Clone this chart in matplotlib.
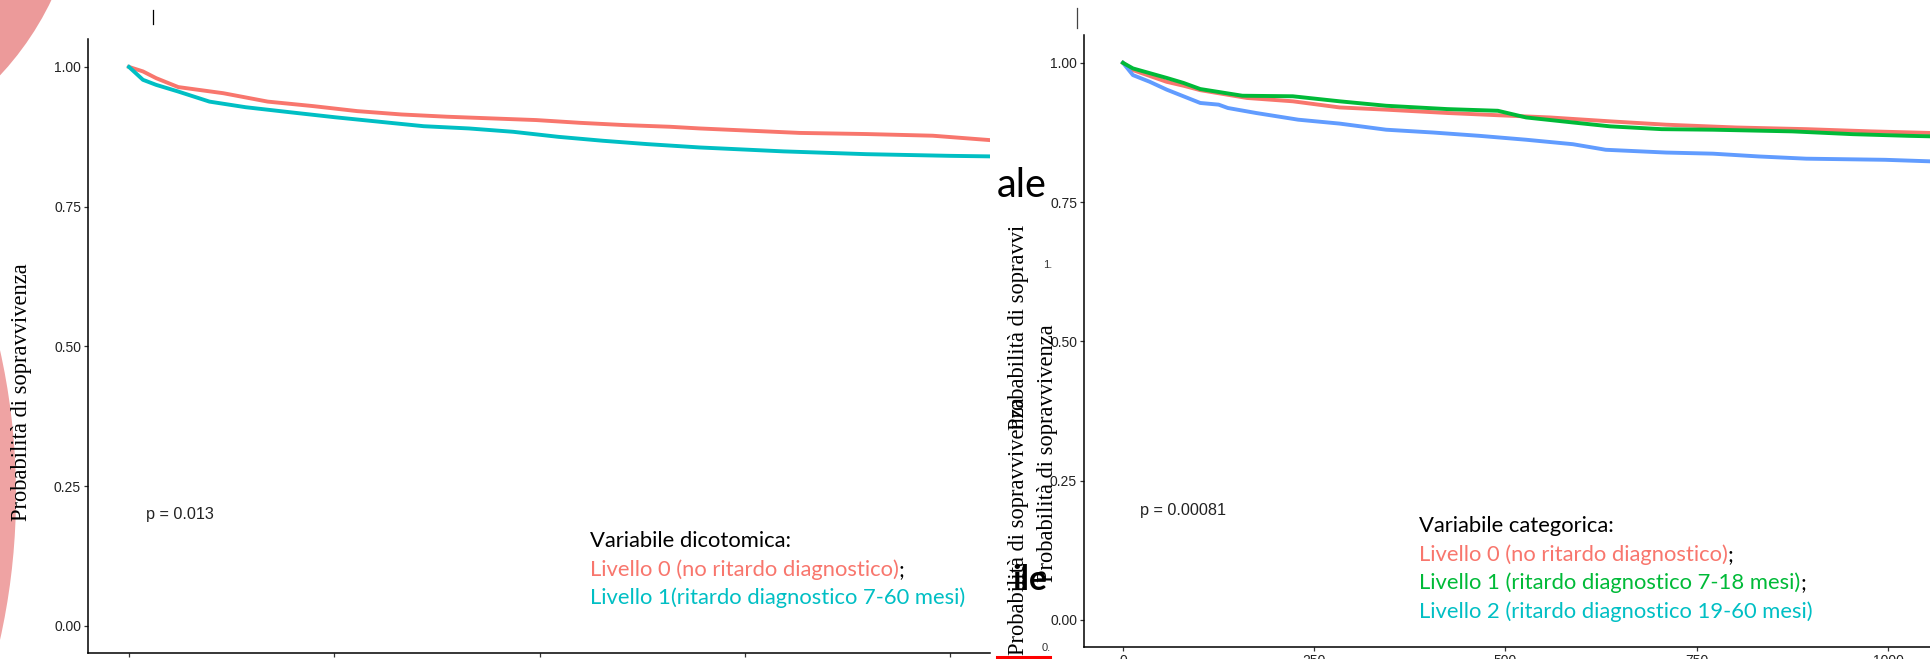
import matplotlib
matplotlib.use('Agg')
import matplotlib.pyplot as plt
from matplotlib.patches import Circle
from matplotlib.transforms import IdentityTransform
from matplotlib.lines import Line2D

# ---------------- data ----------------
# Left panel: dichotomous variable
left_time_lvl0 = [0, 17, 33, 60, 115, 169, 224, 278, 332, 387, 441, 496, 550, 604, 659, 695, 817, 898, 979, 1050]
left_surv_lvl0 = [1.0, 0.992, 0.980, 0.964, 0.953, 0.938, 0.930, 0.921, 0.915, 0.911, 0.908, 0.905, 0.900, 0.896,
                  0.893, 0.890, 0.882, 0.880, 0.877, 0.869]
left_time_lvl1 = [0, 17, 33, 60, 98, 142, 196, 251, 305, 359, 414, 468, 523, 577, 631, 695, 797, 898, 1000, 1050]
left_surv_lvl1 = [1.0, 0.977, 0.968, 0.956, 0.938, 0.928, 0.919, 0.910, 0.902, 0.894, 0.890, 0.884, 0.875, 0.868,
                  0.862, 0.856, 0.849, 0.844, 0.841, 0.840]

# Right panel: categorical variable
right_time_lvl0 = [0, 13, 57, 79, 101, 162, 222, 283, 344, 424, 490, 558, 637, 710, 801, 893, 978, 1060]
right_surv_lvl0 = [1.0, 0.987, 0.966, 0.959, 0.951, 0.937, 0.931, 0.920, 0.916, 0.910, 0.906, 0.902, 0.895, 0.889,
                   0.884, 0.881, 0.877, 0.874]
right_time_lvl1 = [0, 13, 57, 79, 101, 156, 222, 283, 344, 424, 490, 527, 588, 637, 704, 771, 875, 954, 1027, 1060]
right_surv_lvl1 = [1.0, 0.990, 0.973, 0.964, 0.953, 0.941, 0.940, 0.931, 0.923, 0.917, 0.914, 0.902, 0.893, 0.886,
                   0.881, 0.880, 0.877, 0.872, 0.869, 0.868]
right_time_lvl2 = [0, 13, 35, 57, 79, 101, 125, 137, 174, 229, 283, 344, 405, 466, 527, 588, 631, 710, 771, 831, 893,
                   996, 1060]
right_surv_lvl2 = [1.0, 0.978, 0.966, 0.952, 0.940, 0.928, 0.925, 0.919, 0.910, 0.898, 0.891, 0.880, 0.875, 0.869,
                   0.862, 0.854, 0.844, 0.839, 0.837, 0.832, 0.828, 0.826, 0.823]

y_ticks = [0.00, 0.25, 0.50, 0.75, 1.00]
y_tick_labels = ["0.00", "0.25", "0.50", "0.75", "1.00"]
x_ticks = [0, 250, 500, 750, 1000]
x_tick_labels = ["0", "250", "500", "750", "1000"]

y_label = "Probabilità di sopravvivenza"
p_left = "p = 0.013"
p_right = "p = 0.00081"
legend_left_title = "Variabile dicotomica:"
legend_left_items = ["Livello 0 (no ritardo diagnostico)", "Livello 1(ritardo diagnostico 7-60 mesi)"]
legend_right_title = "Variabile categorica:"
legend_right_items = ["Livello 0 (no ritardo diagnostico)", "Livello 1 (ritardo diagnostico 7-18 mesi)",
                      "Livello 2 (ritardo diagnostico 19-60 mesi)"]

RED = '#F8766D'
TEAL = '#00BFC4'
GREEN = '#00BA38'
BLUE = '#619CFF'
PINK = '#ec9a9a'

# ---------------- figure ----------------
W, H = 1931, 659
DPI = 100
fig = plt.figure(figsize=(W / DPI, H / DPI), dpi=DPI)
fig.patch.set_facecolor('white')


def fx(x):
    return x / W


def fy(y):
    return 1 - y / H


# decorative slide circles
fig.add_artist(Circle((-220, H + 130), 301, transform=IdentityTransform(), facecolor=PINK,
                      edgecolor='none', zorder=0))
fig.add_artist(Circle((-649, H - 495), 665, transform=IdentityTransform(), facecolor='#efa3a3',
                      edgecolor='none', zorder=0))

TICK_FONT = 'Liberation Sans'
LEG_FONT = 'Lato'
SERIF = 'Liberation Serif'


def style_axes(ax):
    ax.set_facecolor('none')
    for s in ['top', 'right']:
        ax.spines[s].set_visible(False)
    for s in ['left', 'bottom']:
        ax.spines[s].set_linewidth(1.1)
        ax.spines[s].set_color('black')
    ax.set_yticks(y_ticks)
    ax.set_yticklabels(y_tick_labels)
    ax.set_xticks(x_ticks)
    ax.set_xticklabels(x_tick_labels)
    ax.tick_params(axis='both', length=3, width=0.9, color='#333333', labelsize=10,
                   labelcolor='#222222', pad=2)
    for lab in ax.get_xticklabels() + ax.get_yticklabels():
        lab.set_fontfamily(TICK_FONT)


# left panel
px_per_unit_L = 205.25 / 250
axL = fig.add_axes([fx(88), fy(653), (990 - 88) / W, (653 - 39) / H])
axL.set_xlim((88 - 129) / px_per_unit_L, (990 - 129) / px_per_unit_L)
axL.set_ylim(-0.0483, 1.050)
style_axes(axL)
axL.plot(left_time_lvl0, left_surv_lvl0, color=RED, lw=2.8)
axL.plot(left_time_lvl1, left_surv_lvl1, color=TEAL, lw=2.8)
axL.text(21, 0.199, p_left, fontsize=11.7, family=TICK_FONT, color='#222222', ha='left', va='center')

# right panel
px_per_unit_R = 191.25 / 250
axR = fig.add_axes([fx(1084), fy(647), (1972 - 1084) / W, (647 - 35) / H])
axR.set_xlim((1084 - 1123) / px_per_unit_R, (1972 - 1123) / px_per_unit_R)
axR.set_ylim(-0.0485, 1.050)
style_axes(axR)
axR.plot(right_time_lvl0, right_surv_lvl0, color=RED, lw=2.8)
axR.plot(right_time_lvl2, right_surv_lvl2, color=BLUE, lw=2.8)
axR.plot(right_time_lvl1, right_surv_lvl1, color=GREEN, lw=2.8)
axR.text(22, 0.197, p_right, fontsize=11.7, family=TICK_FONT, color='#222222', ha='left', va='center')

renderer = fig.canvas.get_renderer()


def fit_width(t, target):
    w = t.get_window_extent(renderer).width
    t.set_fontsize(t.get_fontsize() * target / w)


def fit_height(t, target):
    h = t.get_window_extent(renderer).height
    t.set_fontsize(t.get_fontsize() * target / h)


# legend font size fitted on the longest right line
probe = fig.text(0, 0, legend_right_items[2], family=LEG_FONT, fontsize=16)
fit_width(probe, 395)
LEG_SIZE = probe.get_fontsize()
probe.remove()


def legend_line(x, y, parts):
    cur = x
    for txt, col in parts:
        t = fig.text(fx(cur), fy(y), txt, family=LEG_FONT, fontsize=LEG_SIZE, color=col,
                     ha='left', va='center')
        cur += t.get_window_extent(renderer).width


legend_line(590, 541, [(legend_left_title, 'black')])
legend_line(590, 570, [(legend_left_items[0], RED), (';', 'black')])
legend_line(590, 598, [(legend_left_items[1], TEAL)])

legend_line(1419, 526, [(legend_right_title, 'black')])
legend_line(1419, 555, [(legend_right_items[0], RED), (';', 'black')])
legend_line(1419, 583, [(legend_right_items[1], GREEN), (';', 'black')])
legend_line(1419, 612, [(legend_right_items[2], TEAL)])

# rotated y labels (left one and the overlapping ones in the middle)
yl = fig.text(fx(22), fy(392), y_label, family=SERIF, fontsize=16, rotation=90, ha='center', va='center',
              color='black')
fit_height(yl, 258)
YL_SIZE = yl.get_fontsize()
fig.text(fx(1019), fy(526), y_label, family=SERIF, fontsize=YL_SIZE, rotation=90, ha='center', va='center')
fig.text(fx(1019), fy(430), "Probabilità di sopravvi", family=SERIF, fontsize=YL_SIZE, rotation=90,
         ha='center', va='bottom')
fig.text(fx(1048), fy(453), y_label, family=SERIF, fontsize=YL_SIZE, rotation=90, ha='center', va='center')

# slide fragments in the middle
t_ale = fig.text(fx(997), fy(197), "ale", family=LEG_FONT, fontsize=24, color='black', ha='left',
                 va='baseline')
fit_width(t_ale, 50)
t_ile = fig.text(fx(1012), fy(590), "ile", family=LEG_FONT, fontsize=24, weight='bold', color='black',
                 ha='left', va='baseline')
fit_width(t_ile, 35)
fig.text(fx(1043), fy(265), "1.", family=TICK_FONT, fontsize=8, color='#333333', ha='left', va='center')
fig.text(fx(1042), fy(648), "0.", family=TICK_FONT, fontsize=8, color='#333333', ha='left', va='center')
fig.add_artist(Line2D([997, 1050], [H - 657, H - 657], transform=IdentityTransform(), color='red', lw=2.2))

# small vertical marks at the top
fig.add_artist(Line2D([153, 153], [H - 10, H - 24], transform=IdentityTransform(), color='black', lw=0.9))
fig.add_artist(Line2D([1077, 1077], [H - 8, H - 28], transform=IdentityTransform(), color='#444444', lw=0.9))

fig.savefig('out.png', dpi=DPI, facecolor='white')
